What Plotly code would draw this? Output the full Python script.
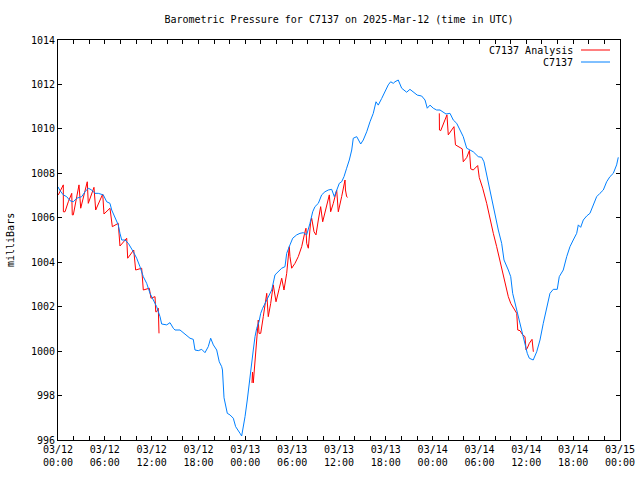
import pandas as pd
import plotly.graph_objects as go

# ---- data (hours after 2025-03-12 00:00 UTC, pressure in mb) ----
blue_hours = [0.00, 0.26, 0.68, 1.11, 1.54, 1.96, 2.40, 3.04, 3.46, 3.88, 4.32, 4.74, 5.16, 5.80,
              6.24, 6.66, 6.88, 7.30, 7.72, 7.94, 8.16, 8.58, 9.01, 9.65, 10.08, 10.50, 10.93,
              11.36, 11.79, 12.21, 12.64, 13.07, 13.28, 13.93, 14.35, 14.77, 14.99, 15.63, 16.27,
              16.91, 17.33, 17.55, 17.97, 18.41, 18.83, 19.25, 19.56, 19.90, 20.33, 20.66, 20.97,
              21.07, 21.27, 21.48, 21.69, 22.03, 22.46, 22.76, 23.10, 23.32, 23.53, 23.74, 23.96,
              24.25, 24.51, 24.82, 25.02, 25.24, 25.46, 25.75, 25.97, 26.22, 26.52, 26.94, 27.38,
              27.80, 28.22, 28.66, 29.08, 29.30, 29.72, 30.07, 30.58, 31.00, 31.42, 31.86, 32.28,
              32.63, 32.92, 33.35, 33.78, 34.20, 34.63, 35.06, 35.40, 35.70, 36.04, 36.34, 36.64,
              36.98, 37.32, 37.63, 37.83, 38.27, 38.78, 39.11, 39.55, 39.97, 40.39, 40.74, 41.03,
              41.47, 41.89, 42.31, 42.62, 42.95, 43.17, 43.59, 44.03, 44.67, 45.09, 45.52, 46.03,
              46.59, 47.02, 47.31, 47.66, 48.08, 48.51, 48.94, 49.36, 49.71, 50.22, 50.64, 51.08,
              51.50, 51.92, 52.36, 52.78, 53.20, 53.84, 54.28, 54.57, 54.92, 55.34, 55.56, 55.98,
              56.41, 56.84, 57.14, 57.69, 58.00, 58.25, 58.55, 58.84, 59.19, 59.53, 59.83, 60.12,
              60.38, 60.88, 61.33, 61.75, 62.17, 62.61, 63.03, 63.45, 63.96, 64.22, 64.73, 65.17,
              65.59, 66.01, 66.45, 66.66, 66.96, 67.30, 67.73, 68.15, 68.58, 69.01, 69.43, 69.86,
              70.29, 70.71, 71.14, 71.57, 71.78]
blue_mb = [1007.39, 1007.22, 1007.03, 1006.95, 1006.77, 1006.72, 1006.88, 1006.95, 1007.17, 1007.33,
           1007.25, 1007.10, 1007.10, 1007.03, 1006.72, 1006.65, 1006.35, 1006.05, 1005.68, 1005.30,
           1005.00, 1005.00, 1004.85, 1004.47, 1004.18, 1003.80, 1003.35, 1003.05, 1002.60, 1002.30,
           1002.00, 1001.55, 1001.22, 1001.18, 1001.28, 1001.03, 1000.95, 1000.95, 1000.77, 1000.58,
           1000.53, 1000.05, 1000.02, 1000.08, 999.93, 1000.20, 1000.58, 1000.28, 1000.05, 999.52,
           999.30, 999.15, 997.90, 997.50, 997.20, 997.13, 996.98, 996.60, 996.45, 996.30, 996.18,
           996.53, 997.05, 997.80, 998.48, 999.30, 1000.05, 1000.65, 1001.03, 1001.32, 1001.70,
           1001.93, 1002.15, 1002.45, 1002.75, 1003.43, 1003.57, 1003.73, 1003.80, 1004.40, 1004.78,
           1005.08, 1005.23, 1005.30, 1005.33, 1005.23, 1005.75, 1006.27, 1006.50, 1006.65, 1007.03,
           1007.17, 1007.25, 1007.28, 1006.95, 1007.25, 1007.55, 1007.62, 1007.85, 1008.23, 1008.60,
           1009.05, 1009.58, 1009.65, 1009.32, 1009.50, 1009.87, 1010.32, 1010.70, 1011.22, 1011.07,
           1011.37, 1011.67, 1011.98, 1012.12, 1012.05, 1012.12, 1012.20, 1011.83, 1011.65, 1011.78,
           1011.67, 1011.52, 1011.48, 1011.30, 1010.93, 1011.07, 1010.93, 1010.85, 1010.85, 1010.77,
           1010.67, 1010.70, 1010.40, 1010.25, 1009.95, 1009.65, 1009.13, 1009.05, 1008.97, 1008.75,
           1008.72, 1008.52, 1007.92, 1007.33, 1006.95, 1006.20, 1005.45, 1004.85, 1004.10, 1003.65,
           1003.35, 1002.60, 1002.15, 1001.70, 1001.25, 1000.80, 1000.35, 999.90, 999.68, 999.60,
           999.97, 1000.50, 1001.25, 1002.00, 1002.60, 1002.78, 1002.78, 1003.35, 1003.65, 1004.25,
           1004.70, 1005.00, 1005.30, 1005.68, 1005.57, 1005.90, 1006.08, 1006.20, 1006.58, 1006.95,
           1007.10, 1007.25, 1007.62, 1007.85, 1008.00, 1008.38, 1008.72]

# analysis series: three runs, separated by gaps (None)
red_hours = [0.04, 0.68, 0.69, 0.90, 1.32, 1.76, 1.83, 1.96, 2.69, 2.91, 3.75, 3.88, 4.61, 4.83,
             5.73, 5.89, 6.66, 6.88, 6.96, 7.72, 7.85, 7.94, 8.80, 8.88, 8.93, 9.70, 9.86, 9.95,
             10.72, 10.85, 10.93, 11.70, 11.88, 11.91, 12.43, 12.52, 12.64, 12.85, 12.94,
             18.0,
             24.85, 24.92, 25.02, 25.24, 25.46, 25.66, 25.75, 25.97, 26.30, 26.52, 26.74, 26.94,
             27.25, 27.58, 27.93, 28.35, 28.66, 28.95, 29.30, 29.63, 29.72, 29.94, 30.36, 30.78,
             31.22, 31.64, 31.77, 31.86, 32.07, 32.37, 32.50, 32.80, 33.05, 33.35, 33.65, 33.91,
             34.20, 34.50, 34.76, 34.93, 35.27, 35.70, 35.91, 36.34, 36.77, 36.83, 36.98, 37.11,
             43.0,
             48.85, 48.87, 49.03, 49.36, 49.71, 49.83, 50.00, 50.44, 50.73, 50.92, 51.28, 51.79,
             51.92, 52.36, 52.71, 52.88, 53.20, 53.77, 53.97, 54.41, 54.92, 55.34, 55.77, 56.20,
             56.62, 56.97, 57.26, 57.69, 58.00, 58.42, 58.77, 58.90, 59.19, 59.53, 59.83, 59.96,
             60.12, 60.38, 60.73, 60.90]
red_mb = [1007.03, 1007.48, 1006.27, 1006.27, 1006.72, 1007.10, 1006.13, 1006.13, 1007.48, 1006.43,
          1007.62, 1006.65, 1007.37, 1006.35, 1007.07, 1006.17, 1006.43, 1005.60, 1005.60, 1005.75,
          1004.73, 1004.73, 1005.08, 1004.18, 1004.18, 1004.55, 1003.65, 1003.65, 1003.73, 1002.75,
          1002.75, 1002.83, 1002.38, 1002.38, 1002.45, 1001.77, 1001.77, 1001.93, 1000.80,
          None,
          998.57, 999.06, 998.57, 999.60, 1000.50, 1001.40, 1000.80, 1000.80, 1001.55, 1002.15,
          1002.60, 1001.55, 1002.15, 1002.98, 1002.22, 1002.83, 1003.28, 1002.75, 1003.50, 1004.70,
          1004.25, 1003.73, 1003.95, 1004.25, 1004.70, 1005.37, 1005.53, 1004.85, 1004.63, 1005.82,
          1005.98, 1005.37, 1005.23, 1005.90, 1006.50, 1005.82, 1006.20, 1006.65, 1007.03, 1006.27,
          1006.65, 1007.25, 1006.27, 1006.95, 1007.70, 1007.25, 1006.95, 1006.92,
          None,
          1010.70, 1009.95, 1009.92, 1010.22, 1010.55, 1010.63, 1009.73, 1009.95, 1010.10, 1009.28,
          1009.20, 1009.10, 1008.52, 1008.71, 1009.03, 1008.20, 1008.15, 1008.35, 1007.81, 1007.33,
          1006.65, 1005.90, 1005.30, 1004.70, 1004.10, 1003.50, 1003.05, 1002.45, 1002.15, 1001.93,
          1001.70, 1000.95, 1000.92, 1000.73, 1000.65, 1000.05, 1000.13, 1000.35, 1000.53, 999.97]

series_names = ["C7137 Analysis", "C7137"]
series_colors = ["#ff0000", "#0080ff"]

start = pd.Timestamp("2025-03-12 00:00")
end = pd.Timestamp("2025-03-15 00:00")
to_time = lambda hrs: [start + pd.Timedelta(hours=h) for h in hrs]

FONT = "DejaVu Sans Mono"

fig = go.Figure()
fig.add_trace(go.Scatter(x=to_time(red_hours), y=red_mb, mode="lines", name=series_names[0],
                         line=dict(color=series_colors[0], width=1), connectgaps=False))
fig.add_trace(go.Scatter(x=to_time(blue_hours), y=blue_mb, mode="lines", name=series_names[1],
                         line=dict(color=series_colors[1], width=1)))

fig.update_layout(
    width=640, height=480,
    margin=dict(l=58, r=20, t=40, b=40, autoexpand=False),
    paper_bgcolor="white", plot_bgcolor="white",
    showlegend=False,
    font=dict(family=FONT, size=10, color="black"),
    title=dict(text="Barometric Pressure for C7137 on 2025-Mar-12 (time in UTC)",
               x=0.5, xref="paper", yref="container", y=1 - 19 / 480, yanchor="middle",
               font=dict(family=FONT, size=10, color="black")),
)

fig.update_xaxes(
    type="date", range=[start, end], automargin=False,
    tick0=start, dtick=6 * 3600 * 1000, tickformat="%m/%d<br>%H:%M",
    ticks="inside", ticklen=4, tickcolor="black",
    minor=dict(dtick=2 * 3600 * 1000, ticks="inside", ticklen=4, tickcolor="black", showgrid=False),
    showline=True, linecolor="black", linewidth=1, mirror="ticks",
    showgrid=False, zeroline=False,
    tickfont=dict(family=FONT, size=10, color="black"),
)
fig.update_yaxes(
    range=[996, 1014], dtick=2, tick0=996, automargin=False,
    ticks="inside", ticklen=4, tickcolor="black",
    showline=True, linecolor="black", linewidth=1, mirror="ticks",
    showgrid=False, zeroline=False,
    tickfont=dict(family=FONT, size=10, color="black"),
)

# y-axis label
fig.add_annotation(text="milliBars", xref="paper", yref="paper", x=(10 - 58) / 562, y=0.5,
                   textangle=-90, showarrow=False, xanchor="center", yanchor="middle",
                   font=dict(family=FONT, size=10, color="black"))

# gnuplot-style key (text on the left, line sample on the right)
key_rows = [50, 62]
for name, color, ypx in zip(series_names, series_colors, key_rows):
    yp = (440 - ypx) / 400
    fig.add_annotation(text=name, xref="paper", yref="paper", x=(575 - 58) / 562, y=yp,
                       xanchor="right", yanchor="middle", showarrow=False,
                       font=dict(family=FONT, size=10, color="black"))
    fig.add_shape(type="line", xref="paper", yref="paper",
                  x0=(581 - 58) / 562, x1=(610 - 58) / 562, y0=yp, y1=yp,
                  line=dict(color=color, width=1))

fig.write_html("out.html", config={"displayModeBar": False},
               post_script="document.body.style.margin='0';document.body.style.overflow='hidden';")
